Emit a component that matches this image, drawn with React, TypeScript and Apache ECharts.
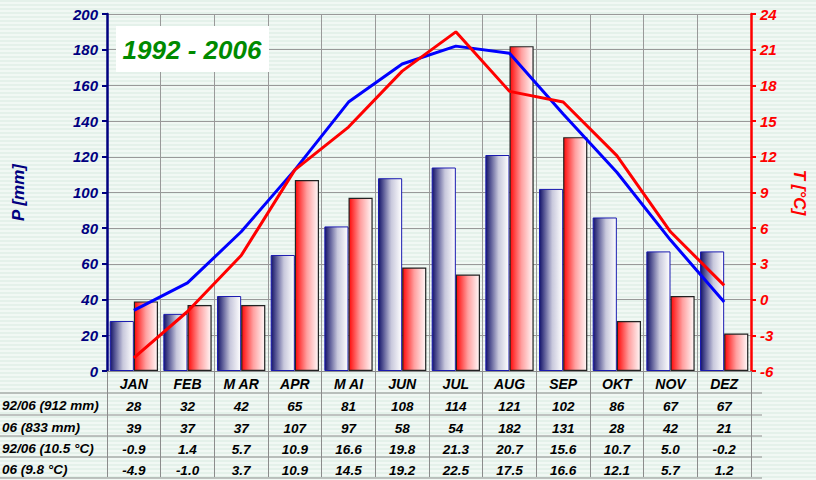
import React, { useEffect, useRef } from "react";
import * as echarts from "echarts";

const months = ["JAN", "FEB", "M AR", "APR", "M AI", "JUN", "JUL", "AUG", "SEP", "OKT", "NOV", "DEZ"];
const precipAvg = [28, 32, 42, 65, 81, 108, 114, 121, 102, 86, 67, 67];
const precip06 = [39, 37, 37, 107, 97, 58, 54, 182, 131, 28, 42, 21];
const tempAvg = [-0.9, 1.4, 5.7, 10.9, 16.6, 19.8, 21.3, 20.7, 15.6, 10.7, 5.0, -0.2];
const temp06 = [-4.9, -1.0, 3.7, 10.9, 14.5, 19.2, 22.5, 17.5, 16.6, 12.1, 5.7, 1.2];
const rowLabels = ["92/06 (912 mm)", "06 (833 mm)", "92/06 (10.5 °C)", "06 (9.8 °C)"];
const titleText = "1992 - 2006";

const FONT = "Liberation Sans, Arial, sans-serif";

export default function App() {
  const ref = useRef<HTMLDivElement>(null);
  useEffect(() => {
    if (!ref.current) return;
    const chart = echarts.init(ref.current, null, { renderer: "svg" });
    const rows = [
      precipAvg.map((v) => String(v)),
      precip06.map((v) => String(v)),
      tempAvg.map((v) => v.toFixed(1)),
      temp06.map((v) => v.toFixed(1)),
    ];
    const offsets = [22, 44, 65, 86];
    const labelStyle = {
      fontFamily: FONT,
      fontWeight: "bold" as const,
      fontStyle: "italic" as const,
      fontSize: 13.5,
      color: "#000",
    };
    const xAxes: any[] = [
      {
        type: "category",
        data: months,
        position: "bottom",
        axisLine: { show: true, lineStyle: { color: "#8c8c8c", width: 1 } },
        axisTick: { show: true, length: 106, inside: false, lineStyle: { color: "#8c8c8c", width: 1 } },
        axisLabel: { ...labelStyle, fontSize: 14, margin: 6 },
        splitLine: { show: true, lineStyle: { color: "#999", width: 1 } },
      },
      ...rows.map((r, i) => ({
        type: "category",
        data: r,
        position: "bottom",
        offset: offsets[i],
        axisLine: { show: false },
        axisTick: { show: false },
        splitLine: { show: false },
        axisLabel: { ...labelStyle, margin: 6 },
      })),
    ];
    const rowCenters = [405, 427, 448, 469];
    const hLines = [393, 415, 436, 457, 478];
    const graphic: any[] = [
      ...hLines.map((y) => ({
        type: "line",
        shape: { x1: 0, y1: y, x2: 762, y2: y },
        style: { stroke: "#8c8c8c", lineWidth: 1 },
        silent: true,
      })),
      ...rowLabels.map((t, i) => ({
        type: "text",
        x: 2,
        y: rowCenters[i],
        style: {
          text: t,
          fontFamily: FONT,
          fontWeight: "bold",
          fontStyle: "italic",
          fontSize: 13.5,
          fill: "#000",
          verticalAlign: "middle",
          align: "left",
        },
      })),
      {
        type: "rect",
        shape: { x: 116, y: 26, width: 153, height: 46 },
        style: { fill: "#ffffff" },
        z: 100,
      },
      {
        type: "text",
        x: 192,
        y: 50,
        z: 101,
        style: {
          text: titleText,
          fontFamily: FONT,
          fontWeight: "bold",
          fontStyle: "italic",
          fontSize: 26,
          fill: "#008a00",
          align: "center",
          verticalAlign: "middle",
        },
      },
    ];
    const option: any = {
      animation: false,
      backgroundColor: "transparent",
      grid: { left: 107, right: 56, top: 14, bottom: 109, containLabel: false },
      xAxis: xAxes,
      yAxis: [
        {
          type: "value",
          min: 0,
          max: 200,
          interval: 20,
          position: "left",
          name: "P [mm]",
          nameLocation: "middle",
          nameGap: 80,
          nameRotate: 90,
          nameTextStyle: { fontFamily: FONT, fontWeight: "bold", fontStyle: "italic", fontSize: 17, color: "#000080" },
          axisLine: { show: true, lineStyle: { color: "#000080", width: 2.5 } },
          axisTick: { show: true, length: 5, lineStyle: { color: "#000080", width: 2 } },
          axisLabel: { fontFamily: FONT, fontWeight: "bold", fontStyle: "italic", fontSize: 15, color: "#000080", margin: 9 },
          splitLine: { show: true, lineStyle: { color: "#999", width: 1 } },
        },
        {
          type: "value",
          min: -6,
          max: 24,
          interval: 3,
          position: "right",
          name: "T [°C]",
          nameLocation: "middle",
          nameGap: 40,
          nameRotate: -90,
          nameTextStyle: { fontFamily: FONT, fontWeight: "bold", fontStyle: "italic", fontSize: 17, color: "#ff0000" },
          axisLine: { show: true, lineStyle: { color: "#ff0000", width: 2.5 } },
          axisTick: { show: true, length: 5, lineStyle: { color: "#ff0000", width: 2 } },
          axisLabel: { fontFamily: FONT, fontWeight: "bold", fontStyle: "italic", fontSize: 15, color: "#ff0000", margin: 9 },
          splitLine: { show: false },
        },
      ],
      series: [
        {
          type: "bar",
          data: precipAvg,
          xAxisIndex: 0,
          yAxisIndex: 0,
          barGap: "0%",
          barCategoryGap: "10%",
          itemStyle: {
            color: new echarts.graphic.LinearGradient(0, 0, 1, 0, [
              { offset: 0, color: "#14146a" },
              { offset: 0.55, color: "#c8c8dc" },
              { offset: 1, color: "#ffffff" },
            ]),
            borderColor: "#1a1ab0",
            borderWidth: 1,
          },
        },
        {
          type: "bar",
          data: precip06,
          xAxisIndex: 0,
          yAxisIndex: 0,
          barGap: "0%",
          barCategoryGap: "10%",
          itemStyle: {
            color: new echarts.graphic.LinearGradient(0, 0, 1, 0, [
              { offset: 0, color: "#ff0a0a" },
              { offset: 0.5, color: "#ffa0a0" },
              { offset: 1, color: "#fff8f8" },
            ]),
            borderColor: "#222",
            borderWidth: 1.2,
          },
        },
        {
          type: "line",
          data: tempAvg,
          xAxisIndex: 0,
          yAxisIndex: 1,
          showSymbol: false,
          symbol: "none",
          lineStyle: { color: "#0000ff", width: 3 },
          z: 5,
        },
        {
          type: "line",
          data: temp06,
          xAxisIndex: 0,
          yAxisIndex: 1,
          showSymbol: false,
          symbol: "none",
          lineStyle: { color: "#ff0000", width: 3 },
          z: 6,
        },
      ],
      graphic,
    };
    chart.setOption(option);
    return () => chart.dispose();
  }, []);
  return (
    <div
      ref={ref}
      style={{
        position: "absolute",
        left: 0,
        top: 0,
        width: 816,
        height: 480,
        background:
          "repeating-linear-gradient(to bottom, #e4f1ea 0px, #e4f1ea 2px, #f1f8f4 2px, #f1f8f4 4px)",
      }}
    />
  );
}
